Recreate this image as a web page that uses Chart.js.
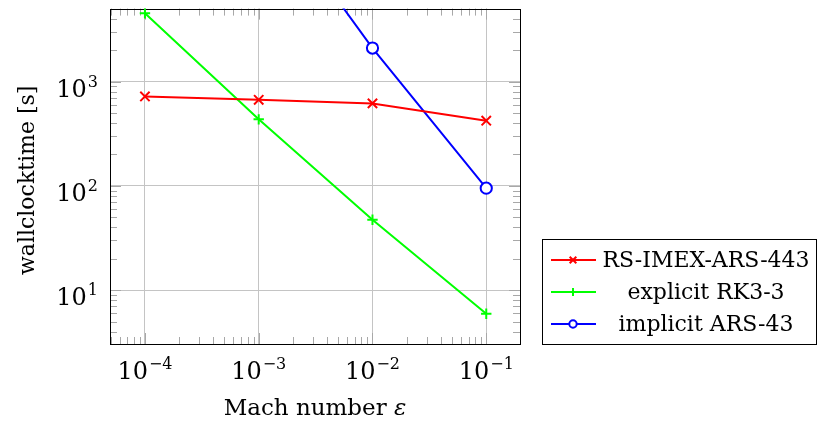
<!DOCTYPE html>
<html>
<head>
<meta charset="utf-8">
<script src="https://cdn.jsdelivr.net/npm/chart.js@4"></script>
<style>
  body { margin: 0; background: #fff; }
  canvas { display: block; }
</style>
</head>
<body>
<canvas id="chart" width="817" height="427"></canvas>
<script>
const machNumbers = [1e-4, 1e-3, 1e-2, 1e-1];
const rsImexTimes = [719, 668, 617, 421];
const explicitTimes = [4515, 434, 47.4, 5.94];
const implicitTimes = [null, 66000, 2094, 95];

const seriesNames = ['RS-IMEX-ARS-443', 'explicit RK3-3', 'implicit ARS-43'];
const xTickValues = [1e-4, 1e-3, 1e-2, 1e-1];
const xTickExps = ['\u22124', '\u22123', '\u22122', '\u22121'];
const yTickValues = [10, 100, 1000];
const yTickExps = ['1', '2', '3'];

const serif = '"DejaVu Serif", serif';

function toPoints(values) {
    return machNumbers.map((m, i) => ({ x: m, y: values[i] }));
}

// minor tick positions for each decade
function minorTicks(min, max) {
    let out = [];
    for (let e = Math.floor(Math.log10(min)); e <= Math.ceil(Math.log10(max)); e++) {
        for (let k = 2; k <= 9; k++) {
            let v = k * Math.pow(10, e);
            if (v >= min && v <= max) out.push(v);
        }
    }
    return out;
}

const xMin = 4.93e-5, xMax = 0.198;
const yMin = 3.05, yMax = 5000;

function drawMarker(ctx, style, x, y, r) {
    ctx.beginPath();
    if (style === 'crossRot') {
        let d = r * 0.707;
        ctx.moveTo(x - d, y - d); ctx.lineTo(x + d, y + d);
        ctx.moveTo(x - d, y + d); ctx.lineTo(x + d, y - d);
    } else if (style === 'cross') {
        ctx.moveTo(x - r, y); ctx.lineTo(x + r, y);
        ctx.moveTo(x, y - r); ctx.lineTo(x, y + r);
    } else {
        ctx.arc(x, y, r, 0, Math.PI * 2);
        ctx.fillStyle = '#fff';
        ctx.fill();
    }
    ctx.stroke();
}

function drawPow(ctx, x, y, exp, align) {
    ctx.font = '24px ' + serif;
    let wb = ctx.measureText('10').width;
    ctx.font = '16px ' + serif;
    let we = ctx.measureText(exp).width;
    let total = wb + 1 + we;
    let left = align === 'right' ? x - total : x - total / 2;
    ctx.textAlign = 'left';
    ctx.textBaseline = 'alphabetic';
    ctx.font = '24px ' + serif;
    ctx.fillText('10', left, y);
    ctx.font = '16px ' + serif;
    ctx.fillText(exp, left + wb + 1, y - 10);
}

const axisDecor = {
    id: 'axisDecor',
    beforeDatasetsDraw(chart) {
        const { ctx, chartArea: a, scales: { x, y } } = chart;
        ctx.save();
        ctx.strokeStyle = '#a8a8a8';
        ctx.lineWidth = 1;
        const seg = (x1, y1, x2, y2) => { ctx.beginPath(); ctx.moveTo(x1, y1); ctx.lineTo(x2, y2); ctx.stroke(); };

        minorTicks(xMin, xMax).forEach(v => {
            let px = Math.round(x.getPixelForValue(v)) + 0.5;
            seg(px, a.top, px, a.top + 7);
            seg(px, a.bottom, px, a.bottom - 7);
        });
        minorTicks(yMin, yMax).forEach(v => {
            let py = Math.round(y.getPixelForValue(v)) + 0.5;
            seg(a.left, py, a.left + 7, py);
            seg(a.right, py, a.right - 7, py);
        });
        xTickValues.forEach(v => {
            let px = Math.round(x.getPixelForValue(v)) + 0.5;
            seg(px, a.top, px, a.top + 11);
            seg(px, a.bottom, px, a.bottom - 11);
        });
        yTickValues.forEach(v => {
            let py = Math.round(y.getPixelForValue(v)) + 0.5;
            seg(a.left, py, a.left + 11, py);
            seg(a.right, py, a.right - 11, py);
        });

        ctx.strokeStyle = '#000';
        ctx.strokeRect(Math.round(a.left) + 0.5, Math.round(a.top) + 0.5,
            Math.round(a.right - a.left), Math.round(a.bottom - a.top));
        ctx.restore();
    },
    afterDraw(chart) {
        const { ctx, chartArea: a, scales: { x, y } } = chart;
        ctx.save();
        ctx.fillStyle = '#000';

        xTickValues.forEach((v, i) => drawPow(ctx, x.getPixelForValue(v), a.bottom + 35, xTickExps[i], 'center'));
        yTickValues.forEach((v, i) => drawPow(ctx, a.left - 12, y.getPixelForValue(v) + 15, yTickExps[i], 'right'));

        // x title, epsilon in italics
        ctx.textAlign = 'left';
        ctx.textBaseline = 'alphabetic';
        ctx.font = '23px ' + serif;
        let t1 = 'Mach number ';
        let w1 = ctx.measureText(t1).width;
        ctx.font = 'italic 23px ' + serif;
        let w2 = ctx.measureText('\u03b5').width;
        let tx = (a.left + a.right) / 2 - (w1 + w2) / 2;
        ctx.font = '23px ' + serif;
        ctx.fillText(t1, tx, a.bottom + 71);
        ctx.font = 'italic 23px ' + serif;
        ctx.fillText('\u03b5', tx + w1, a.bottom + 71);

        // y title
        ctx.font = '22px ' + serif;
        ctx.textAlign = 'center';
        ctx.save();
        ctx.translate(34, (a.top + a.bottom) / 2 + 4);
        ctx.rotate(-Math.PI / 2);
        ctx.fillText('wallclocktime [s]', 0, 0);
        ctx.restore();

        // legend box
        let lx = a.right + 22, ly = a.bottom - 105, lw = 274, lh = 105;
        ctx.fillStyle = '#fff';
        ctx.fillRect(lx, ly, lw, lh);
        ctx.strokeStyle = '#000';
        ctx.lineWidth = 1;
        ctx.strokeRect(Math.round(lx) + 0.5, Math.round(ly) + 0.5, lw, lh);
        const rowY = [21, 53, 85];
        const markR = [4.7, 4, 3.7];
        chart.data.datasets.forEach((ds, i) => {
            let ry = ly + rowY[i];
            ctx.strokeStyle = ds.borderColor;
            ctx.lineWidth = 2;
            ctx.beginPath();
            ctx.moveTo(lx + 9, ry); ctx.lineTo(lx + 54, ry);
            ctx.stroke();
            drawMarker(ctx, ds.pointStyle, lx + 31, ry, markR[i]);
            ctx.fillStyle = '#000';
            ctx.font = '22px ' + serif;
            ctx.textAlign = 'center';
            ctx.textBaseline = 'middle';
            ctx.fillText(ds.label, lx + 164, ry + 1);
        });
        ctx.restore();
    }
};

new Chart(document.getElementById('chart').getContext('2d'), {
    type: 'line',
    data: {
        datasets: [
            {
                label: seriesNames[0],
                data: toPoints(rsImexTimes),
                borderColor: '#ff0000',
                backgroundColor: '#ff0000',
                pointStyle: 'crossRot',
                pointRadius: 6.6,
                borderWidth: 2,
                pointBorderWidth: 2
            },
            {
                label: seriesNames[1],
                data: toPoints(explicitTimes),
                borderColor: '#00ff00',
                backgroundColor: '#00ff00',
                pointStyle: 'cross',
                pointRadius: 5.2,
                borderWidth: 2,
                pointBorderWidth: 2
            },
            {
                label: seriesNames[2],
                data: toPoints(implicitTimes),
                borderColor: '#0000ff',
                backgroundColor: '#ffffff',
                pointStyle: 'circle',
                pointRadius: 5.6,
                borderWidth: 2,
                pointBorderWidth: 2
            }
        ]
    },
    options: {
        responsive: false,
        animation: false,
        layout: { padding: { left: 110, top: 7, right: 297, bottom: 83 } },
        plugins: { legend: { display: false }, tooltip: { enabled: false } },
        scales: {
            x: {
                type: 'logarithmic',
                min: xMin,
                max: xMax,
                afterBuildTicks: s => { s.ticks = xTickValues.map(v => ({ value: v })); },
                ticks: { display: false },
                grid: { color: '#c4c4c4', lineWidth: 1, drawTicks: false },
                border: { display: false }
            },
            y: {
                type: 'logarithmic',
                min: yMin,
                max: yMax,
                afterBuildTicks: s => { s.ticks = yTickValues.map(v => ({ value: v })); },
                ticks: { display: false },
                grid: { color: '#c4c4c4', lineWidth: 1, drawTicks: false },
                border: { display: false }
            }
        }
    },
    plugins: [axisDecor]
});
</script>
</body>
</html>
